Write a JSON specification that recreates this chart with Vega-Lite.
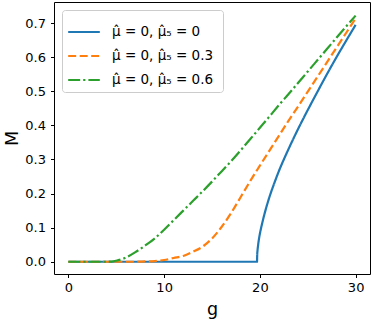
{
  "$schema": "https://vega.github.io/schema/vega-lite/v6.json",
  "width": 316,
  "height": 272,
  "autosize": {"type": "none"},
  "padding": {"left": 54, "top": 2, "right": 4, "bottom": 45},
  "background": "white",
  "config": {
    "font": "DejaVu Sans",
    "view": {"stroke": "#000", "strokeWidth": 1},
    "axis": {
      "grid": false,
      "domain": false,
      "tickColor": "#000",
      "tickSize": 3.5,
      "tickWidth": 1,
      "labelColor": "#000",
      "labelFontSize": 13,
      "labelPadding": 3.5,
      "titleColor": "#000",
      "titleFontSize": 17.5,
      "titleFontWeight": "normal"
    },
    "legend": {
      "labelFontSize": 13.5,
      "labelColor": "#000"
    }
  },
  "data": {
    "values": [
      {"s": "μ̂ = 0,  μ̂₅ = 0", "g": 0, "M": 0},
      {"s": "μ̂ = 0,  μ̂₅ = 0", "g": 5, "M": 0},
      {"s": "μ̂ = 0,  μ̂₅ = 0", "g": 10, "M": 0},
      {"s": "μ̂ = 0,  μ̂₅ = 0", "g": 15, "M": 0},
      {"s": "μ̂ = 0,  μ̂₅ = 0", "g": 19.7, "M": 0},
      {"s": "μ̂ = 0,  μ̂₅ = 0", "g": 19.72, "M": 0.02},
      {"s": "μ̂ = 0,  μ̂₅ = 0", "g": 19.75, "M": 0.032},
      {"s": "μ̂ = 0,  μ̂₅ = 0", "g": 19.8, "M": 0.045},
      {"s": "μ̂ = 0,  μ̂₅ = 0", "g": 19.9, "M": 0.066},
      {"s": "μ̂ = 0,  μ̂₅ = 0", "g": 20, "M": 0.082},
      {"s": "μ̂ = 0,  μ̂₅ = 0", "g": 20.2, "M": 0.108},
      {"s": "μ̂ = 0,  μ̂₅ = 0", "g": 20.5, "M": 0.142},
      {"s": "μ̂ = 0,  μ̂₅ = 0", "g": 21, "M": 0.19},
      {"s": "μ̂ = 0,  μ̂₅ = 0", "g": 21.5, "M": 0.23},
      {"s": "μ̂ = 0,  μ̂₅ = 0", "g": 22, "M": 0.267},
      {"s": "μ̂ = 0,  μ̂₅ = 0", "g": 22.5, "M": 0.3},
      {"s": "μ̂ = 0,  μ̂₅ = 0", "g": 23, "M": 0.331},
      {"s": "μ̂ = 0,  μ̂₅ = 0", "g": 24, "M": 0.39},
      {"s": "μ̂ = 0,  μ̂₅ = 0", "g": 25, "M": 0.445},
      {"s": "μ̂ = 0,  μ̂₅ = 0", "g": 26, "M": 0.498},
      {"s": "μ̂ = 0,  μ̂₅ = 0", "g": 27, "M": 0.55},
      {"s": "μ̂ = 0,  μ̂₅ = 0", "g": 28, "M": 0.6},
      {"s": "μ̂ = 0,  μ̂₅ = 0", "g": 29, "M": 0.648},
      {"s": "μ̂ = 0,  μ̂₅ = 0", "g": 30, "M": 0.695},

      {"s": "μ̂ = 0,  μ̂₅ = 0.3", "g": 0, "M": 0},
      {"s": "μ̂ = 0,  μ̂₅ = 0.3", "g": 4, "M": 0},
      {"s": "μ̂ = 0,  μ̂₅ = 0.3", "g": 7, "M": 0},
      {"s": "μ̂ = 0,  μ̂₅ = 0.3", "g": 8, "M": 0.001},
      {"s": "μ̂ = 0,  μ̂₅ = 0.3", "g": 9, "M": 0.002},
      {"s": "μ̂ = 0,  μ̂₅ = 0.3", "g": 10, "M": 0.005},
      {"s": "μ̂ = 0,  μ̂₅ = 0.3", "g": 11, "M": 0.011},
      {"s": "μ̂ = 0,  μ̂₅ = 0.3", "g": 12, "M": 0.017},
      {"s": "μ̂ = 0,  μ̂₅ = 0.3", "g": 13, "M": 0.029},
      {"s": "μ̂ = 0,  μ̂₅ = 0.3", "g": 14, "M": 0.044},
      {"s": "μ̂ = 0,  μ̂₅ = 0.3", "g": 15, "M": 0.068},
      {"s": "μ̂ = 0,  μ̂₅ = 0.3", "g": 16, "M": 0.102},
      {"s": "μ̂ = 0,  μ̂₅ = 0.3", "g": 17, "M": 0.143},
      {"s": "μ̂ = 0,  μ̂₅ = 0.3", "g": 18, "M": 0.19},
      {"s": "μ̂ = 0,  μ̂₅ = 0.3", "g": 19, "M": 0.237},
      {"s": "μ̂ = 0,  μ̂₅ = 0.3", "g": 20, "M": 0.282},
      {"s": "μ̂ = 0,  μ̂₅ = 0.3", "g": 21, "M": 0.326},
      {"s": "μ̂ = 0,  μ̂₅ = 0.3", "g": 22, "M": 0.37},
      {"s": "μ̂ = 0,  μ̂₅ = 0.3", "g": 23, "M": 0.414},
      {"s": "μ̂ = 0,  μ̂₅ = 0.3", "g": 24, "M": 0.456},
      {"s": "μ̂ = 0,  μ̂₅ = 0.3", "g": 25, "M": 0.499},
      {"s": "μ̂ = 0,  μ̂₅ = 0.3", "g": 26, "M": 0.542},
      {"s": "μ̂ = 0,  μ̂₅ = 0.3", "g": 27, "M": 0.585},
      {"s": "μ̂ = 0,  μ̂₅ = 0.3", "g": 28, "M": 0.628},
      {"s": "μ̂ = 0,  μ̂₅ = 0.3", "g": 29, "M": 0.671},
      {"s": "μ̂ = 0,  μ̂₅ = 0.3", "g": 30, "M": 0.714},

      {"s": "μ̂ = 0,  μ̂₅ = 0.6", "g": 0, "M": 0},
      {"s": "μ̂ = 0,  μ̂₅ = 0.6", "g": 2, "M": 0},
      {"s": "μ̂ = 0,  μ̂₅ = 0.6", "g": 4, "M": 0},
      {"s": "μ̂ = 0,  μ̂₅ = 0.6", "g": 4.5, "M": 0.0005},
      {"s": "μ̂ = 0,  μ̂₅ = 0.6", "g": 5, "M": 0.003},
      {"s": "μ̂ = 0,  μ̂₅ = 0.6", "g": 6, "M": 0.012},
      {"s": "μ̂ = 0,  μ̂₅ = 0.6", "g": 7, "M": 0.028},
      {"s": "μ̂ = 0,  μ̂₅ = 0.6", "g": 8, "M": 0.047},
      {"s": "μ̂ = 0,  μ̂₅ = 0.6", "g": 9, "M": 0.068},
      {"s": "μ̂ = 0,  μ̂₅ = 0.6", "g": 10, "M": 0.094},
      {"s": "μ̂ = 0,  μ̂₅ = 0.6", "g": 11, "M": 0.122},
      {"s": "μ̂ = 0,  μ̂₅ = 0.6", "g": 12, "M": 0.15},
      {"s": "μ̂ = 0,  μ̂₅ = 0.6", "g": 13, "M": 0.178},
      {"s": "μ̂ = 0,  μ̂₅ = 0.6", "g": 14, "M": 0.206},
      {"s": "μ̂ = 0,  μ̂₅ = 0.6", "g": 15, "M": 0.235},
      {"s": "μ̂ = 0,  μ̂₅ = 0.6", "g": 16, "M": 0.265},
      {"s": "μ̂ = 0,  μ̂₅ = 0.6", "g": 17, "M": 0.295},
      {"s": "μ̂ = 0,  μ̂₅ = 0.6", "g": 18, "M": 0.327},
      {"s": "μ̂ = 0,  μ̂₅ = 0.6", "g": 19, "M": 0.36},
      {"s": "μ̂ = 0,  μ̂₅ = 0.6", "g": 20, "M": 0.393},
      {"s": "μ̂ = 0,  μ̂₅ = 0.6", "g": 21, "M": 0.426},
      {"s": "μ̂ = 0,  μ̂₅ = 0.6", "g": 22, "M": 0.46},
      {"s": "μ̂ = 0,  μ̂₅ = 0.6", "g": 23, "M": 0.492},
      {"s": "μ̂ = 0,  μ̂₅ = 0.6", "g": 24, "M": 0.525},
      {"s": "μ̂ = 0,  μ̂₅ = 0.6", "g": 25, "M": 0.558},
      {"s": "μ̂ = 0,  μ̂₅ = 0.6", "g": 26, "M": 0.591},
      {"s": "μ̂ = 0,  μ̂₅ = 0.6", "g": 27, "M": 0.624},
      {"s": "μ̂ = 0,  μ̂₅ = 0.6", "g": 28, "M": 0.657},
      {"s": "μ̂ = 0,  μ̂₅ = 0.6", "g": 29, "M": 0.69},
      {"s": "μ̂ = 0,  μ̂₅ = 0.6", "g": 30, "M": 0.722}
    ]
  },
  "mark": {"type": "line", "strokeWidth": 2.2, "interpolate": "monotone", "clip": true},
  "encoding": {
    "x": {
      "field": "g", "type": "quantitative", "title": "g",
      "scale": {"domain": [-1.5, 31.5], "nice": false, "zero": false},
      "axis": {"values": [0, 10, 20, 30], "titlePadding": 6}
    },
    "y": {
      "field": "M", "type": "quantitative", "title": "M",
      "scale": {"domain": [-0.036, 0.762], "nice": false, "zero": false},
      "axis": {"values": [0, 0.1, 0.2, 0.3, 0.4, 0.5, 0.6, 0.7], "format": ".1f", "labelPadding": 5, "titlePadding": 3}
    },
    "color": {
      "field": "s", "type": "nominal",
      "scale": {
        "domain": ["μ̂ = 0,  μ̂₅ = 0", "μ̂ = 0,  μ̂₅ = 0.3", "μ̂ = 0,  μ̂₅ = 0.6"],
        "range": ["#1f77b4", "#ff7f0e", "#2ca02c"]
      },
      "legend": {
        "title": null,
        "orient": "none",
        "legendX": 8,
        "legendY": 8,
        "fillColor": "white",
        "strokeColor": "#cccccc",
        "cornerRadius": 3,
        "padding": 5,
        "symbolType": "stroke",
        "symbolSize": 1000,
        "symbolStrokeWidth": 2.2,
        "rowPadding": -1.5,
        "labelOffset": 11
      }
    },
    "strokeDash": {
      "field": "s", "type": "nominal",
      "scale": {
        "domain": ["μ̂ = 0,  μ̂₅ = 0", "μ̂ = 0,  μ̂₅ = 0.3", "μ̂ = 0,  μ̂₅ = 0.6"],
        "range": [[1, 0], [8, 3.5], [12, 3, 2.2, 3]]
      },
      "legend": null
    }
  }
}
